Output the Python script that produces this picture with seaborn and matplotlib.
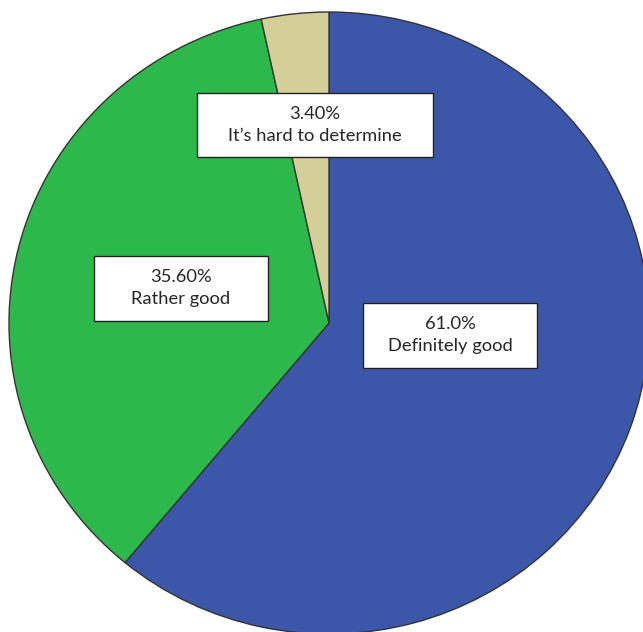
import matplotlib
matplotlib.use("Agg")
import matplotlib.pyplot as plt
import seaborn as sns
from matplotlib.patches import Rectangle

categories = ["Definitely good", "Rather good", "It\u2019s hard to determine"]
values = [61.0, 35.6, 3.4]
pct_labels = ["61.0%", "35.60%", "3.40%"]
colors = ["#3C57A9", "#2DB84B", "#D4CF99"]

sns.set_theme(style="white")
plt.rcParams['font.family'] = ['Lato', 'DejaVu Sans']

W, H = 643, 632
fig = plt.figure(figsize=(W / 100, H / 100), dpi=100)
ax = fig.add_axes([0, 0, 1, 1])

cx, cy, Rx, Ry = 329, 323, 320, 311
ax.pie(values, colors=colors, startangle=90, counterclock=False,
       wedgeprops=dict(edgecolor="#333333", linewidth=1.0))
ax.set_xlim(-cx / Rx, (W - cx) / Rx)
ax.set_ylim(-(H - cy) / Ry, cy / Ry)
ax.set_aspect('auto')
ax.axis('off')

# label box centres / sizes in pixels (layout)
boxes = [((450, 335), (174, 65)), ((181, 288), (173, 65)), ((315, 125), (236, 64))]
for (pc, cat, ((bx, by), (bw, bh))) in zip(pct_labels, categories, boxes):
    x = (bx - cx) / Rx
    y = (cy - by) / Ry
    ax.add_patch(Rectangle((x - bw / 2 / Rx, y - bh / 2 / Ry), bw / Rx, bh / Ry,
                           facecolor="white", edgecolor="#222222", linewidth=1.0, zorder=5))
    ax.text(x, y, f"{pc}\n{cat}", ha="center", va="center", fontsize=13.2,
            color="#262626", linespacing=1.4, zorder=6)

fig.savefig("out.png", dpi=100)
